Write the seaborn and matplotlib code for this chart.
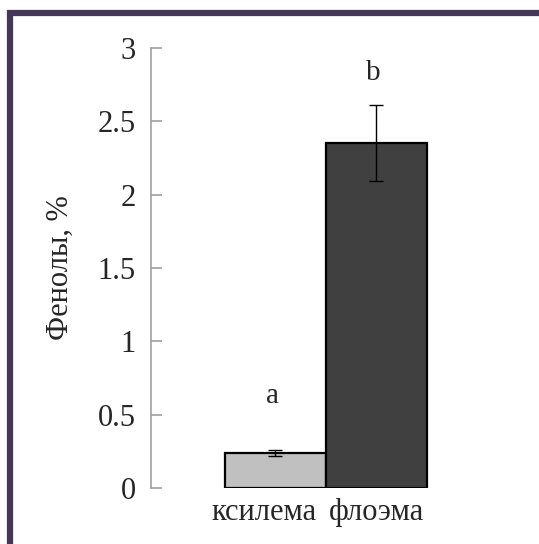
import matplotlib
matplotlib.use("Agg")
import matplotlib.pyplot as plt
from matplotlib.patches import Rectangle
from matplotlib.transforms import ScaledTranslation
import seaborn as sns
import pandas as pd

# Phenol content in xylem and phloem
tissues = ["ксилема", "флоэма"]
phenols = [0.24, 2.35]
errors = [0.02, 0.26]
letters = ["a", "b"]
bar_colors = ["#c0c0c0", "#404040"]

sns.set_style("white")
plt.rcParams["font.family"] = ["Liberation Serif", "DejaVu Serif"]

df = pd.DataFrame({"tissue": tissues, "value": phenols})

fig = plt.figure(figsize=(5.39, 5.44), dpi=100)
ax = fig.add_axes([0.280, 0.103, 0.649, 0.809])

sns.barplot(data=df, x="tissue", y="value", hue="tissue", palette=bar_colors,
            width=1.0, errorbar=None, legend=False, ax=ax,
            edgecolor="black", linewidth=1.6)

xs = list(range(len(tissues)))
ax.errorbar(xs, phenols, yerr=errors, fmt="none", ecolor="black",
            elinewidth=1.0, capsize=5, capthick=1.0)

# significance letters above each bar
letter_y = [0.63, 2.83]
for x, ly, lt in zip(xs, letter_y, letters):
    ax.text(x - 0.03, ly, lt, ha="center", va="center", fontsize=21)

ax.set_xlim(-1.23, 2.23)
ax.set_ylim(0, 3)
ax.set_yticks([0, 0.5, 1, 1.5, 2, 2.5, 3])
ax.set_yticklabels(["0", "0.5", "1", "1.5", "2", "2.5", "3"])
ax.tick_params(axis="y", left=True, direction="in", length=8, width=1.2,
               color="#a0a0a0", labelsize=22, pad=11)
ax.tick_params(axis="x", bottom=False, length=0, labelsize=22, pad=7)
ax.set_xlabel("")
ax.set_ylabel("Фенолы, %", fontsize=22, labelpad=16)

# the first category label sits a little left of its bar
first = ax.get_xticklabels()[0]
first.set_transform(first.get_transform() +
                    ScaledTranslation(-11 / 100, 0, fig.dpi_scale_trans))

for side in ["top", "right", "bottom"]:
    ax.spines[side].set_visible(False)
ax.spines["left"].set_color("#a0a0a0")
ax.spines["left"].set_linewidth(1.2)

# outer frame around the figure
fig.patches.append(Rectangle((10 / 539, -0.2), 1.2, 1 - 13 / 544 + 0.2,
                             transform=fig.transFigure, fill=False,
                             edgecolor="#45375a", linewidth=4.5, zorder=10))

fig.savefig("out.png", dpi=100)
